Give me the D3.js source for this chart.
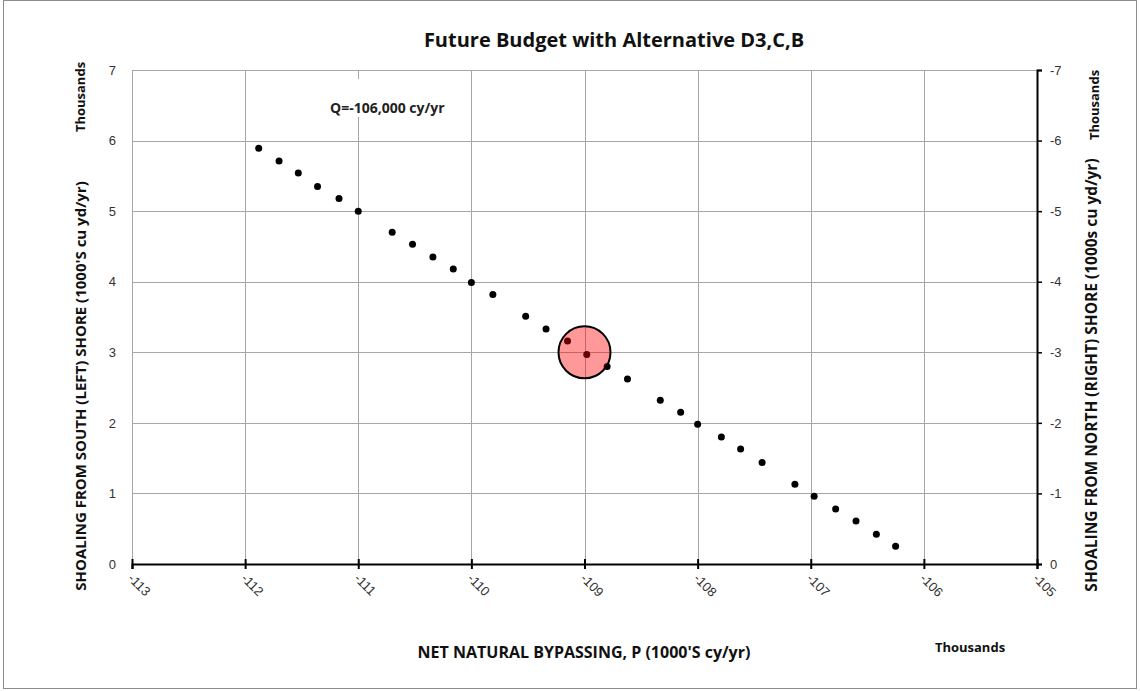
<!DOCTYPE html>
<html>
<head>
<meta charset="utf-8">
<script src="https://cdn.jsdelivr.net/npm/d3@7"></script>
<style>
  body { margin: 0; background: #fff; }
  text { font-family: "Open Sans", sans-serif; }
</style>
</head>
<body>
<div id="chart"></div>
<script>
// Data (thousands)
const bypassing = [-111.88, -111.70, -111.53, -111.36, -111.17, -111.00,
  -110.70, -110.52, -110.34, -110.16, -110.00, -109.81,
  -109.52, -109.34, -109.15, -108.98, -108.80, -108.62,
  -108.33, -108.15, -108.00, -107.79, -107.62, -107.43,
  -107.14, -106.97, -106.78, -106.60, -106.42, -106.25];
const shoaling = [5.89, 5.71, 5.54, 5.35, 5.18, 5.00,
  4.70, 4.53, 4.35, 4.18, 3.99, 3.82,
  3.51, 3.33, 3.16, 2.97, 2.80, 2.62,
  2.32, 2.15, 1.98, 1.80, 1.63, 1.44,
  1.13, 0.96, 0.78, 0.61, 0.42, 0.25];
const highlight = { x: -109, y: 3 };
const xTicks = [-113, -112, -111, -110, -109, -108, -107, -106, -105];
const yTicks = [0, 1, 2, 3, 4, 5, 6, 7];
const yRightTicks = [0, -1, -2, -3, -4, -5, -6, -7];

const W = 1140, H = 691;
const plotLeft = 132, plotRight = 1037, plotTop = 70, plotBottom = 564;

// plain hyphen for negatives, like the original
const fmt = d => String(d);

const svg = d3.select("#chart").append("svg")
  .attr("width", W).attr("height", H);

// outer frame
svg.append("rect")
  .attr("x", 3.5).attr("y", 0.5).attr("width", 1133).attr("height", 688)
  .attr("fill", "none").attr("stroke", "#8c8c8c");

const x = d3.scaleLinear().domain([-113, -105]).range([plotLeft, plotRight]);
const y = d3.scaleLinear().domain([0, 7]).range([plotBottom, plotTop]);
const y2 = d3.scaleLinear().domain([0, -7]).range([plotBottom, plotTop]);

// gridlines
svg.append("g").selectAll("line").data(xTicks).join("line")
  .attr("x1", d => Math.round(x(d)) + 0.5).attr("x2", d => Math.round(x(d)) + 0.5)
  .attr("y1", plotTop).attr("y2", plotBottom)
  .attr("stroke", "#a6a6a6").attr("stroke-width", 1);
svg.append("g").selectAll("line").data(yTicks).join("line")
  .attr("x1", plotLeft).attr("x2", plotRight)
  .attr("y1", d => Math.round(y(d)) + 0.5).attr("y2", d => Math.round(y(d)) + 0.5)
  .attr("stroke", "#a6a6a6").attr("stroke-width", 1);

// annotation box
svg.append("rect")
  .attr("x", 322).attr("y", 79).attr("width", 136).attr("height", 38)
  .attr("fill", "#fff");
svg.append("text")
  .attr("x", 330).attr("y", 113)
  .style("font-size", "14px").style("font-weight", "bold").attr("fill", "#222")
  .text("Q=-106,000 cy/yr");

// left axis
const gl = svg.append("g").attr("transform", `translate(${plotLeft},0)`)
  .call(d3.axisLeft(y).tickValues(yTicks).tickSize(0).tickPadding(16).tickFormat(fmt));
gl.select(".domain").attr("stroke", "#a6a6a6");
gl.selectAll("text").style("font-size", "13px").attr("fill", "#333")
  .style("font-family", "'Liberation Sans', sans-serif");

// right axis
const gr = svg.append("g").attr("transform", `translate(${plotRight},0)`)
  .call(d3.axisRight(y2).tickValues(yRightTicks).tickSize(5).tickPadding(8).tickFormat(fmt));
gr.select(".domain").attr("stroke", "#000").attr("stroke-width", 2);
gr.selectAll(".tick line").attr("stroke", "#000").attr("stroke-width", 1.5);
gr.selectAll("text").style("font-size", "13px").attr("fill", "#333")
  .style("font-family", "'Liberation Sans', sans-serif");

// bottom axis
const gb = svg.append("g").attr("transform", `translate(0,${plotBottom})`)
  .call(d3.axisBottom(x).tickValues(xTicks).tickSize(5).tickFormat(fmt));
gb.select(".domain").attr("stroke", "#000").attr("stroke-width", 2);
gb.selectAll(".tick line").attr("y1", -5).attr("y2", 5)
  .attr("stroke", "#000").attr("stroke-width", 2);
gb.selectAll("text")
  .attr("transform", "translate(-2,12) rotate(45)")
  .attr("x", 0).attr("y", 0).attr("dy", "0.35em")
  .attr("text-anchor", "start")
  .style("font-size", "13px").attr("fill", "#333")
  .style("font-family", "'Liberation Sans', sans-serif");

// data points
svg.append("g").selectAll("circle").data(bypassing).join("circle")
  .attr("cx", (d, i) => x(d)).attr("cy", (d, i) => y(shoaling[i]))
  .attr("r", 3.5).attr("fill", "#000");

// highlight circle
svg.append("circle")
  .attr("cx", x(highlight.x)).attr("cy", y(highlight.y)).attr("r", 26)
  .attr("fill", "rgba(255,0,0,0.4)").attr("stroke", "#000").attr("stroke-width", 2);

// title
svg.append("text")
  .attr("x", 614).attr("y", 47).attr("text-anchor", "middle")
  .style("font-size", "20px").style("font-weight", "bold").attr("fill", "#111")
  .text("Future Budget with Alternative D3,C,B");

// axis titles
svg.append("text")
  .attr("x", 584).attr("y", 658).attr("text-anchor", "middle")
  .style("font-size", "16px").style("font-weight", "bold").attr("fill", "#111")
  .text("NET NATURAL BYPASSING, P (1000'S cy/yr)");
svg.append("text")
  .attr("x", 970).attr("y", 652).attr("text-anchor", "middle")
  .style("font-size", "13px").style("font-weight", "bold").attr("fill", "#111")
  .text("Thousands");

svg.append("text")
  .attr("transform", "translate(86,386) rotate(-90)").attr("text-anchor", "middle")
  .style("font-size", "15px").style("font-weight", "bold").attr("fill", "#111")
  .text("SHOALING FROM SOUTH  (LEFT) SHORE (1000'S cu yd/yr)");
svg.append("text")
  .attr("transform", "translate(85,97) rotate(-90)").attr("text-anchor", "middle")
  .style("font-size", "13px").style("font-weight", "bold").attr("fill", "#111")
  .text("Thousands");

svg.append("text")
  .attr("transform", "translate(1097,375) rotate(-90)").attr("text-anchor", "middle")
  .style("font-size", "15.5px").style("font-weight", "bold").attr("fill", "#111")
  .text("SHOALING FROM  NORTH (RIGHT) SHORE (1000s cu yd/yr)");
svg.append("text")
  .attr("transform", "translate(1099,105) rotate(-90)").attr("text-anchor", "middle")
  .style("font-size", "13px").style("font-weight", "bold").attr("fill", "#111")
  .text("Thousands");
</script>
</body>
</html>
